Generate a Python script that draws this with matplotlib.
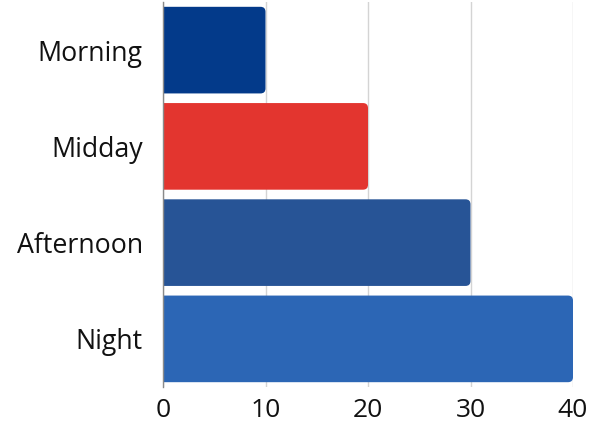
import matplotlib
matplotlib.use("Agg")
import matplotlib.pyplot as plt
from matplotlib.patches import FancyBboxPatch

categories = ["Morning", "Midday", "Afternoon", "Night"]
values = [10, 20, 30, 40]
colors = ["#033A8A", "#E3352F", "#275496", "#2C66B5"]
xticks = [0, 10, 20, 30, 40]

plt.rcParams['font.family'] = ['Open Sans', 'DejaVu Sans']

W, H = 606, 425
fig = plt.figure(figsize=(W / 100, H / 100), dpi=100)
left, right, top, bottom = 163, 573, 2, 387
ax = fig.add_axes([left / W, (H - bottom) / H, (right - left) / W, (bottom - top) / H])
ax.set_xlim(0, 40)
ax.set_ylim(3.5, -0.5)

px_x = (right - left) / 40.0
px_y = (bottom - top) / 4.0
aspect = px_x / px_y
r = 5 / px_x
bh = 0.9
for i, (v, c) in enumerate(zip(values, colors)):
    p = FancyBboxPatch((-2, i - bh / 2), v + 2, bh,
                       boxstyle=f"round,pad=0,rounding_size={r}",
                       mutation_aspect=aspect, facecolor=c, edgecolor="none",
                       zorder=3)
    ax.add_patch(p)
    p.set_clip_path(ax.patch)

ax.set_yticks(range(len(categories)))
ax.set_yticklabels(categories)
ax.set_xticks(xticks)
ax.set_xticklabels([str(t) for t in xticks])
ax.tick_params(axis='y', length=0, pad=14.5, labelsize=19.3, labelcolor="#111111")
ax.tick_params(axis='x', length=0, pad=8, labelsize=19, labelcolor="#111111")
ax.grid(axis='x', color="#d4d4d4", linewidth=1, zorder=0)
for s in ["top", "right", "bottom"]:
    ax.spines[s].set_visible(False)
ax.spines["left"].set_color("#8a8a8a")
ax.spines["left"].set_linewidth(1)
ax.spines["left"].set_zorder(4)

fig.savefig("out.png", dpi=100)
